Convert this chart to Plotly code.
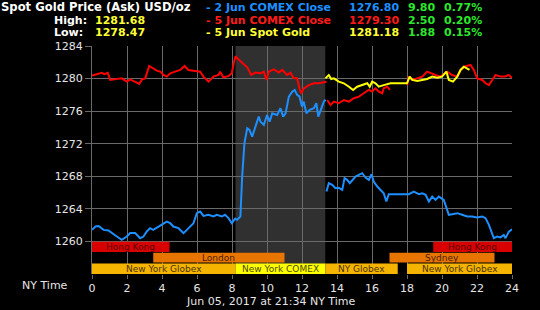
import plotly.graph_objects as go

# ---------------- data ----------------
blue1_x = [0, 0.2, 0.38, 0.66, 0.94, 1.13, 1.42, 1.7, 1.99, 2.18, 2.47, 2.75, 2.94, 3.13, 3.32, 3.5, 3.8, 3.99,
           4.27, 4.47, 4.65, 4.94, 5.23, 5.42, 5.51, 5.8, 5.99, 6.18, 6.37, 6.66, 6.94, 7.13, 7.42, 7.6, 7.8,
           7.99, 8.18, 8.29, 8.48, 8.58, 8.71, 8.87, 9.0, 9.15, 9.34, 9.53, 9.63, 9.82, 10.0, 10.15, 10.3,
           10.58, 10.77, 10.92, 11.06, 11.25, 11.44, 11.58, 11.72, 11.86, 12.0, 12.1, 12.25, 12.44, 12.68,
           12.82, 12.93, 13.06, 13.25, 13.35]
blue1_y = [1261.42, 1261.83, 1261.9, 1261.42, 1261.34, 1261.02, 1260.6, 1260.2, 1260.6, 1261.02, 1261.02,
           1260.4, 1260.6, 1261.22, 1261.63, 1261.42, 1261.83, 1262.04, 1262.44, 1262.24, 1261.83, 1261.63,
           1261.02, 1261.42, 1261.63, 1262.24, 1263.47, 1263.67, 1263.14, 1263.27, 1263.06, 1263.27, 1263.06,
           1263.27, 1262.86, 1262.24, 1262.8, 1262.65, 1263.06, 1267.96, 1272.06, 1273.9, 1273.7, 1272.87,
           1274.1, 1275.33, 1274.7, 1274.3, 1275.53, 1274.7, 1275.74, 1275.53, 1276.35, 1275.33, 1275.74,
           1277.78, 1278.4, 1278.6, 1277.99, 1277.78, 1276.56, 1277.17, 1275.74, 1276.15, 1276.35, 1276.97,
           1275.33, 1276.15, 1277.17, 1277.4]
blue2_x = [13.4, 13.53, 13.73, 13.91, 14.1, 14.3, 14.43, 14.58, 14.73, 14.92, 15.06, 15.25, 15.44, 15.63,
           15.82, 15.97, 16.1, 16.3, 16.49, 16.67, 16.82, 16.96, 17.25, 18.1, 18.39, 18.68, 18.87, 19.06,
           19.25, 19.44, 19.63, 19.82, 20.1, 20.3, 20.39, 20.58, 20.87, 21.15, 21.44, 21.72, 22.0, 22.3,
           22.49, 22.68, 22.87, 22.96, 23.15, 23.34, 23.53, 23.63, 23.82, 24.0]
blue2_y = [1266.12, 1267.15, 1266.94, 1266.54, 1266.6, 1266.33, 1267.77, 1267.56, 1267.15, 1267.56, 1267.96,
           1268.17, 1268.38, 1267.85, 1267.56, 1268.25, 1267.36, 1266.74, 1266.33, 1265.92, 1264.9, 1265.8,
           1265.8, 1265.8, 1266.12, 1265.8, 1265.92, 1265.72, 1264.9, 1265.5, 1265.1, 1265.5, 1265.1,
           1263.67, 1263.27, 1263.35, 1263.47, 1263.27, 1263.06, 1263.06, 1262.94, 1263.06, 1262.86,
           1262.04, 1260.8, 1260.4, 1260.6, 1260.5, 1260.8, 1260.4, 1261.2, 1261.5]

red1_x = [0, 0.37, 0.56, 0.7, 0.9, 1.04, 1.32, 1.7, 1.99, 2.18, 2.47, 2.7, 2.85, 3.04, 3.27, 3.51, 3.7, 3.9,
          4.09, 4.27, 4.47, 4.75, 5.04, 5.29, 5.51, 5.9, 6.18, 6.37, 6.66, 6.94, 7.23, 7.32, 7.51, 7.8, 7.99,
          8.1, 8.2, 8.39, 8.58, 8.87, 9.1, 9.34, 9.63, 9.82, 9.97, 10.1, 10.39, 10.67, 10.87, 11.15, 11.34,
          11.53, 11.72, 11.88, 11.97, 12.1, 12.39, 12.68, 12.96, 13.25, 13.4]
red1_y = [1280.36, 1280.56, 1280.7, 1280.55, 1280.7, 1279.83, 1279.95, 1280.03, 1279.62, 1279.9, 1279.6,
          1279.34, 1279.9, 1280.03, 1281.55, 1281.26, 1280.97, 1280.85, 1280.44, 1280.24, 1280.65, 1280.85,
          1281.06, 1281.55, 1281.06, 1280.94, 1280.85, 1280.24, 1279.62, 1280.24, 1280.44, 1280.85, 1280.16,
          1280.3, 1280.65, 1281.9, 1282.75, 1282.3, 1281.95, 1281.38, 1280.44, 1280.73, 1280.65, 1280.85,
          1279.83, 1280.85, 1281.14, 1280.73, 1281.06, 1280.44, 1280.73, 1280.03, 1280.03, 1278.6, 1278.2,
          1278.8, 1279.2, 1279.42, 1279.42, 1279.5, 1279.62]
red2_x = [13.44, 13.63, 13.82, 14.1, 14.39, 14.68, 14.96, 15.25, 15.53, 15.82, 16.0, 16.2, 16.39, 16.58,
          16.67, 16.87, 17.02]
red2_y = [1277.37, 1276.76, 1277.17, 1276.97, 1277.37, 1277.17, 1277.58, 1277.78, 1278.2, 1278.6, 1278.4,
          1278.8, 1278.4, 1278.2, 1278.8, 1279.0, 1278.6]
red3_x = [18.01, 18.1, 18.3, 18.58, 18.87, 19.15, 19.34, 19.63, 19.9, 20.3, 20.58, 20.87, 21.06, 21.25,
          21.63, 21.82, 22.01, 22.3, 22.49, 22.68, 22.87, 23.06, 23.34, 23.6, 23.8, 24.0]
red3_y = [1279.2, 1280.24, 1279.83, 1280.03, 1280.24, 1280.85, 1280.65, 1280.44, 1280.24, 1280.85, 1280.44,
          1280.24, 1281.06, 1281.46, 1281.67, 1281.06, 1280.03, 1279.83, 1279.42, 1279.2, 1279.83, 1280.44,
          1280.24, 1280.24, 1280.44, 1280.1]

yellow_x = [13.34, 13.53, 13.67, 13.82, 14.1, 14.39, 14.68, 14.92, 15.15, 15.44, 15.73, 15.87, 16.01, 16.2,
            16.39, 16.67, 16.87, 17.06, 18.0, 18.15, 18.3, 18.58, 18.87, 19.15, 19.44, 19.72, 20.0, 20.25,
            20.39, 20.63, 20.87, 21.06, 21.25, 21.44, 21.57]
yellow_y = [1280.03, 1280.44, 1279.95, 1280.03, 1279.62, 1279.42, 1279.0, 1278.6, 1279.0, 1279.21, 1279.42,
            1279.0, 1279.62, 1279.42, 1279.0, 1279.2, 1279.3, 1279.42, 1279.42, 1280.24, 1279.83, 1279.7,
            1279.83, 1279.95, 1280.24, 1280.1, 1280.24, 1280.85, 1279.83, 1279.62, 1280.24, 1281.06,
            1281.46, 1281.26, 1281.06]

x_ticks = [0, 2, 4, 6, 8, 10, 12, 14, 16, 18, 20, 22, 24]
y_ticks = [1260, 1264, 1268, 1272, 1276, 1280, 1284]

comex_start, comex_end = 8.2, 13.33

# sessions: (label, start, end, row)
session_names = ["Hong Kong", "Hong Kong", "London", "Sydney",
                 "New York Globex", "New York COMEX", "NY Globex", "New York Globex"]
session_start = [0, 19.5, 3.5, 17.0, 0, 8.2, 13.33, 18.0]
session_end = [4.43, 24, 11.0, 23.0, 8.2, 13.33, 17.47, 24]
session_row = [0, 0, 1, 1, 2, 2, 2, 2]

header_rows = [
    ("- 2 Jun COMEX Close", "1276.80", "9.80", "0.77%", "#1e8fff"),
    ("- 5 Jun COMEX Close", "1279.30", "2.50", "0.20%", "#ff1a1a"),
    ("- 5 Jun Spot Gold", "1281.18", "1.88", "0.15%", "#ffff33"),
]
high_val, low_val = "1281.68", "1278.47"

# ---------------- style ----------------
BLUE, RED, YEL = "#1e8fff", "#ff0000", "#ffff00"
GREEN = "#2ee62e"
FONT = "DejaVu Sans"
W, H = 540, 310
L, R, T, B = 92, 28, 46, 36
row_y = [(1258.7, 1259.95), (1257.4, 1258.6), (1256.0, 1257.3)]
sess_colors = {"Hong Kong": "#d90000", "London": "#e87500", "Sydney": "#e87500",
               "New York Globex": "#f5b400", "NY Globex": "#f5b400", "New York COMEX": "#ffff00"}
sess_text = {"Hong Kong": "#5a0000", "London": "#4a2000", "Sydney": "#4a2000",
             "New York Globex": "#4a3300", "NY Globex": "#4a3300", "New York COMEX": "#4a4a00"}

fig = go.Figure()
for xs, ys, c in [(blue1_x, blue1_y, BLUE), (blue2_x, blue2_y, BLUE),
                  (red1_x, red1_y, RED), (red2_x, red2_y, RED), (red3_x, red3_y, RED),
                  (yellow_x, yellow_y, YEL)]:
    fig.add_trace(go.Scatter(x=xs, y=ys, mode="lines", line=dict(color=c, width=2),
                             showlegend=False, hoverinfo="skip"))

shapes = [dict(type="rect", xref="x", yref="y", x0=comex_start, x1=comex_end, y0=1256, y1=1284,
               fillcolor="#303030", line=dict(width=0), layer="below")]
annotations = []
for name, s, e, r in zip(session_names, session_start, session_end, session_row):
    y0, y1 = row_y[r]
    shapes.append(dict(type="rect", xref="x", yref="y", x0=s, x1=e, y0=y0, y1=y1,
                       fillcolor=sess_colors[name], line=dict(width=0), layer="between"))
    annotations.append(dict(x=(s + e) / 2, y=(y0 + y1) / 2, xref="x", yref="y", text=name,
                            showarrow=False, font=dict(family=FONT, size=9, color=sess_text[name]),
                            xanchor="center", yanchor="middle"))


def px(xp):
    return (xp - L) / (W - L - R)


def py(yp):
    return (H - B - yp) / (H - T - B)


def txt(text, x, y, color, anchor="left", size=11, bold=True):
    annotations.append(dict(x=px(x), y=py(y), xref="paper", yref="paper", text=text, showarrow=False,
                            xanchor=anchor, yanchor="middle",
                            font=dict(family=FONT, size=size, color=color,
                                      weight="bold" if bold else "normal")))


txt("Spot Gold Price (Ask) USD/oz", -1, 7, "#ffffff", size=11.6)
txt("High:", 52, 20, "#ffffff")
txt(high_val, 93, 20, "#ffff33")
txt("Low:", 52, 33, "#ffffff")
txt(low_val, 93, 33, "#ffff33")
for i, (lab, v, ch, pc, col) in enumerate(header_rows):
    yy = 7 + 13 * i
    txt(lab, 204, yy, col)
    txt(v, 347, yy, col)
    txt(ch, 406, yy, GREEN)
    txt(pc, 442, yy, GREEN)
txt("NY Time", 45, 285, "#e6e6e6", anchor="center", bold=False)
txt("Jun 05, 2017 at 21:34 NY Time", 271, 301, "#e6e6e6", anchor="center", bold=False)

fig.update_layout(
    width=W, height=H, margin=dict(l=L, r=R, t=T, b=B),
    paper_bgcolor="#000000", plot_bgcolor="#000000",
    shapes=shapes, annotations=annotations,
    xaxis=dict(range=[0, 24], tickvals=x_ticks, ticktext=[str(v) for v in x_ticks],
               showgrid=True, gridcolor="#6a6a6a", gridwidth=1, zeroline=False,
               ticks="outside", ticklen=4, tickcolor="#6a6a6a", showline=False,
               tickfont=dict(family=FONT, size=11, color="#e6e6e6"), fixedrange=True),
    yaxis=dict(range=[1256, 1284], tickvals=y_ticks, ticktext=[str(v) for v in y_ticks],
               showgrid=True, gridcolor="#6a6a6a", gridwidth=1, zeroline=False,
               ticks="outside", ticklen=6, tickcolor="#6a6a6a", showline=True, linecolor="#6a6a6a",
               tickfont=dict(family=FONT, size=11, color="#e6e6e6"), fixedrange=True),
)

fig.write_html("out.html")
